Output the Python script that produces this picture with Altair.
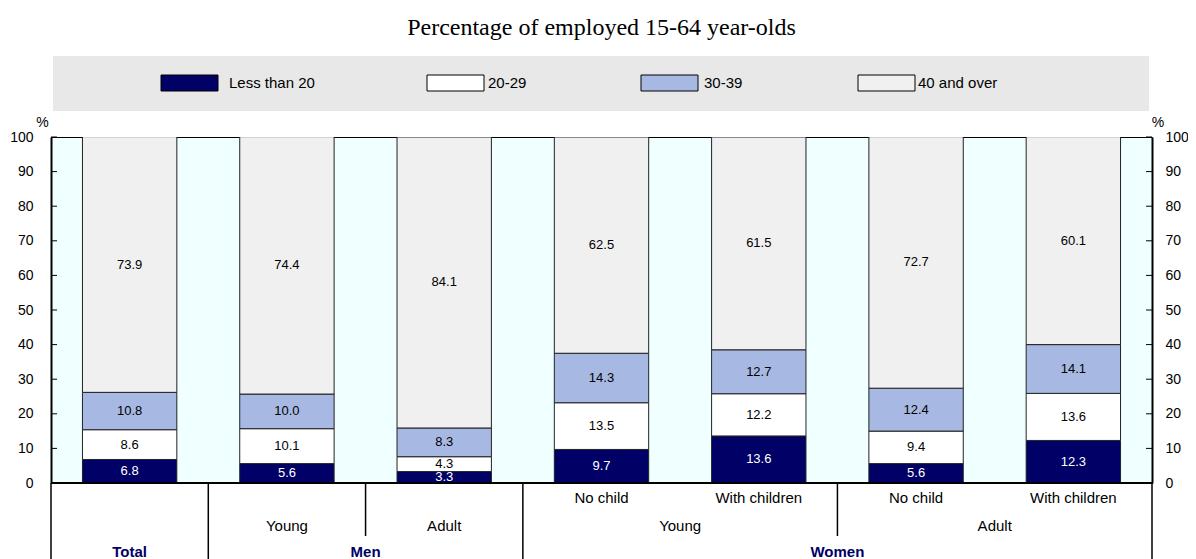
import altair as alt
import pandas as pd

# ---------------- data ----------------
groups = ["Total", "Men", "Men", "Women", "Women", "Women", "Women"]
ages = ["", "Young", "Adult", "Young", "Young", "Adult", "Adult"]
children = ["", "", "", "No child", "With children", "No child", "With children"]

series = ["Less than 20", "20-29", "30-39", "40 and over"]
less_than_20 = [6.8, 5.6, 3.3, 9.7, 13.6, 5.6, 12.3]
h20_29 = [8.6, 10.1, 4.3, 13.5, 12.2, 9.4, 13.6]
h30_39 = [10.8, 10.0, 8.3, 14.3, 12.7, 12.4, 14.1]
h40_over = [73.9, 74.4, 84.1, 62.5, 61.5, 72.7, 60.1]
y_ticks = [0, 10, 20, 30, 40, 50, 60, 70, 80, 90, 100]

title_text = "Percentage of employed 15-64 year-olds"

# ---------------- styles / layout ----------------
colors = ["#000066", "#FFFFFF", "#A7B9E3", "#F0F0F0"]
W, H = 1101, 346
SANS = "Liberation Sans"
SERIF = "Liberation Serif"
NAVY = "#000066"
legend_swatch_x = [110, 376, 590, 807]
legend_label_x = [178, 437, 653, 867]

# ---------------- tables ----------------
values = [less_than_20, h20_29, h30_39, h40_over]
rows = []
for i in range(len(groups)):
    base = 0.0
    for s, vals in zip(series, values):
        v = vals[i]
        rows.append(dict(idx=i, x0=i + 0.2, x1=i + 0.8, xc=i + 0.5,
                         series=s, y0=base, y1=base + v,
                         ym=base + v / 2, label=f"{v:.1f}"))
        base += v
bars_df = pd.DataFrame(rows)

ticks_df = pd.DataFrame({"v": y_ticks})

# category label rows
row1 = [dict(p=i + 0.5, t=c) for i, c in enumerate(children) if c]


def runs(keys):
    out = []
    start = 0
    for i in range(1, len(keys) + 1):
        if i == len(keys) or keys[i] != keys[start]:
            out.append((start, i, keys[start]))
            start = i
    return out


row2 = [dict(p=(a + b) / 2, t=k[1]) for a, b, k in runs(list(zip(groups, ages))) if k[1]]
row3 = [dict(p=(a + b) / 2, t=k) for a, b, k in runs(groups)]
g_runs = runs(groups)
a_runs = runs(list(zip(groups, ages)))
full_seps = sorted(set([0] + [b for _, b, _ in g_runs]))
part_seps = sorted(set(b for _, b, k in a_runs) - set(full_seps))

legend_df = pd.DataFrame({"series": series, "sx": legend_swatch_x,
                          "lx": legend_label_x})

xs = alt.Scale(domain=[0, len(groups)], nice=False, zero=False)
ys = alt.Scale(domain=[0, 100], nice=False, zero=True)

one = pd.DataFrame({"a": [0]})

# ---------------- layers ----------------
bars = alt.Chart(bars_df).mark_rect(stroke="#222222", strokeWidth=1, clip=True).encode(
    x=alt.X("x0:Q", scale=xs, axis=None),
    x2="x1:Q",
    y=alt.Y("y0:Q", scale=ys, axis=None),
    y2="y1:Q",
    fill=alt.Fill("series:N", scale=alt.Scale(domain=series, range=colors), legend=None),
)

labels = alt.Chart(bars_df).mark_text(font=SANS, fontSize=13, baseline="middle").encode(
    x=alt.X("xc:Q", scale=xs, axis=None),
    y=alt.Y("ym:Q", scale=ys, axis=None),
    text="label:N",
    color=alt.condition(alt.datum.series == series[0], alt.value("white"), alt.value("black")),
)

left_axis = alt.Axis(values=y_ticks, tickSize=0, labelPadding=18, labelFont=SANS,
                     labelFontSize=14, labelColor="black", domainColor="black",
                     domainWidth=2, grid=False, title=None, orient="left")
right_axis = alt.Axis(values=y_ticks, tickSize=0, labelPadding=13, labelFont=SANS,
                      labelFontSize=14, labelColor="black", domainColor="black",
                      domainWidth=2, grid=False, title=None, orient="right")

ticks_l = alt.Chart(ticks_df).mark_rule(color="black", strokeWidth=1).encode(
    y=alt.Y("v:Q", scale=ys, axis=left_axis), x=alt.value(0), x2=alt.value(6))
ticks_r = alt.Chart(ticks_df).mark_rule(color="black", strokeWidth=1).encode(
    y=alt.Y("v:Q", scale=ys, axis=right_axis), x=alt.value(W - 6), x2=alt.value(W))

baseline = alt.Chart(one).mark_rule(color="black", strokeWidth=2).encode(
    y=alt.YDatum(0, scale=ys, axis=None), x=alt.value(0), x2=alt.value(W))

sep_full = alt.Chart(pd.DataFrame({"p": full_seps})).mark_rule(
    color="black", strokeWidth=1.5, clip=False).encode(
    x=alt.X("p:Q", scale=xs, axis=None), y=alt.value(H), y2=alt.value(H + 90))
sep_part = alt.Chart(pd.DataFrame({"p": part_seps})).mark_rule(
    color="black", strokeWidth=1.5, clip=False).encode(
    x=alt.X("p:Q", scale=xs, axis=None), y=alt.value(H), y2=alt.value(H + 53))

cat1 = alt.Chart(pd.DataFrame(row1)).mark_text(
    font=SANS, fontSize=15, baseline="middle", color="black", clip=False).encode(
    x=alt.X("p:Q", scale=xs, axis=None), y=alt.value(361), text="t:N")
cat2 = alt.Chart(pd.DataFrame(row2)).mark_text(
    font=SANS, fontSize=15, baseline="middle", color="black", clip=False).encode(
    x=alt.X("p:Q", scale=xs, axis=None), y=alt.value(389), text="t:N")
cat3 = alt.Chart(pd.DataFrame(row3)).mark_text(
    font=SANS, fontSize=15, fontWeight="bold", baseline="middle", color=NAVY,
    clip=False).encode(
    x=alt.X("p:Q", scale=xs, axis=None), y=alt.value(415), text="t:N")

pct = alt.Chart(pd.DataFrame({"t": ["%", "%"], "px": [-8.5, W + 6]})).mark_text(
    font=SANS, fontSize=14, baseline="middle", color="black").encode(
    x=alt.X("px:Q", scale=None), y=alt.value(-14), text="t:N")

legend_box = alt.Chart(one).mark_rect(fill="#E8E8E8").encode(
    x=alt.value(2), x2=alt.value(W - 3), y=alt.value(-81), y2=alt.value(-26))
legend_sw = alt.Chart(legend_df).mark_rect(stroke="black", strokeWidth=1).encode(
    x=alt.X("sx:Q", scale=None), x2=alt.X2("sx2:Q"),
    y=alt.value(-62), y2=alt.value(-46),
    fill=alt.Fill("series:N", scale=alt.Scale(domain=series, range=colors), legend=None),
).transform_calculate(sx2="datum.sx + 57")
legend_tx = alt.Chart(legend_df).mark_text(
    font=SANS, fontSize=15, align="left", baseline="middle", color="black").encode(
    x=alt.X("lx:Q", scale=None), y=alt.value(-54), text="series:N")

title = alt.Chart(one).mark_text(
    font=SERIF, fontSize=24, align="center", baseline="alphabetic", color="black"
).encode(x=alt.value(W / 2), y=alt.value(-102), text=alt.value(title_text))

chart = alt.layer(
    bars, labels, ticks_l, ticks_r, baseline, sep_full, sep_part,
    cat1, cat2, cat3, pct, legend_box, legend_sw, legend_tx, title,
).resolve_scale(y="shared").resolve_axis(y="independent").properties(
    width=W, height=H,
    autosize=alt.AutoSizeParams(type="none"),
    padding={"left": 43, "top": 129, "right": 36, "bottom": 76},
).configure_view(fill="#F0FFFF", stroke="black", strokeWidth=1)

chart.save("out.html", embed_options={"renderer": "svg", "actions": False})
